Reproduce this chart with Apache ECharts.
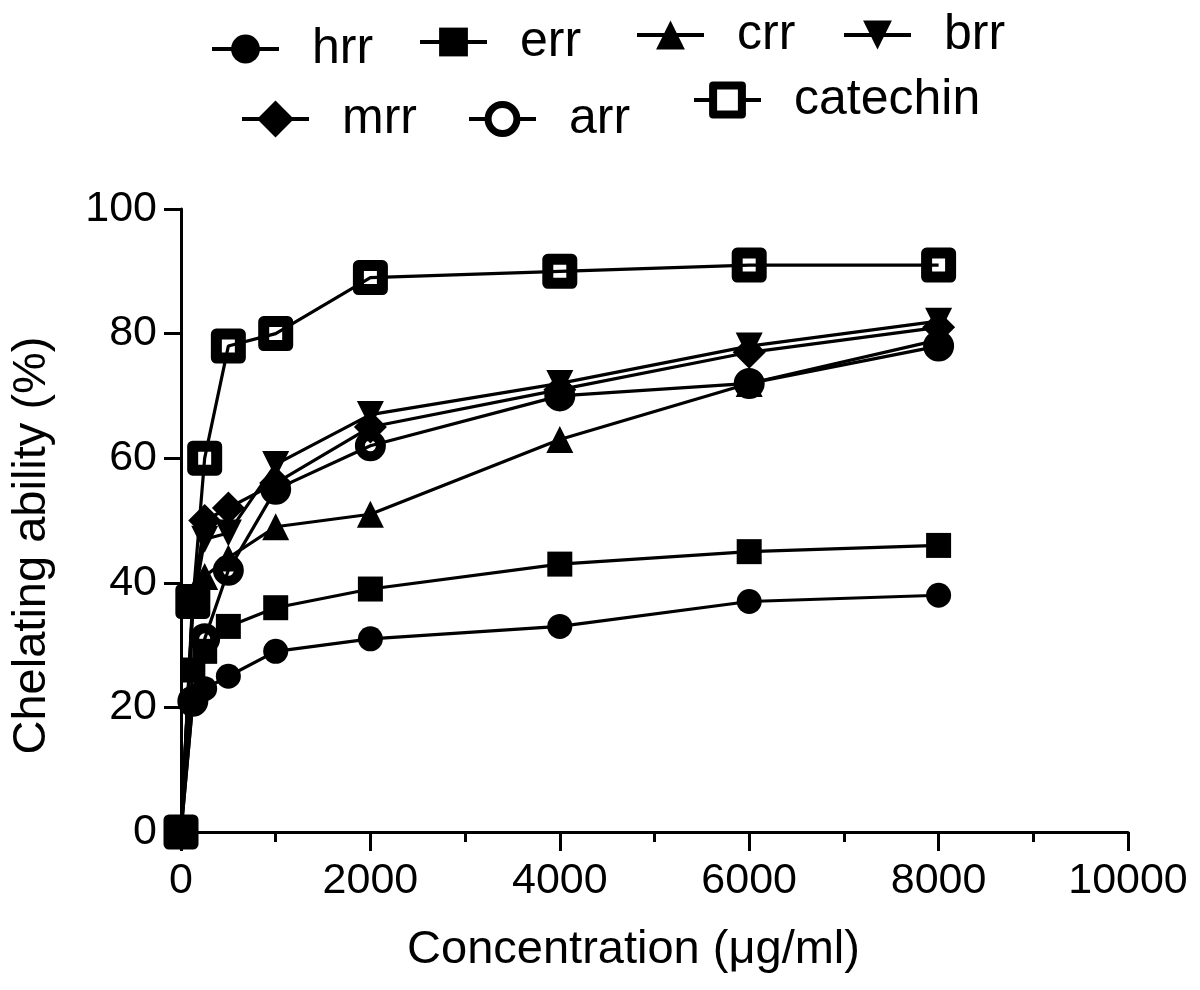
<!DOCTYPE html>
<html>
<head>
<meta charset="utf-8">
<script src="https://cdn.jsdelivr.net/npm/echarts@6/dist/echarts.min.js"></script>
<style>html,body{margin:0;padding:0;background:#fff}#c{width:1200px;height:990px}</style>
</head>
<body>
<div id="c"></div>
<script>
const concentrations = [0, 125, 250, 500, 1000, 2000, 4000, 6000, 8000];
const hrr      = [0, 21, 23, 25, 29, 31, 33, 37, 38];
const err      = [0, 26, 29, 33, 36, 39, 43, 45, 46];
const crr      = [0, 38, 41, 44, 49, 51, 63, 72, 79];
const brr      = [0, 36, 47, 48, 59, 67, 72, 78, 82];
const mrr      = [0, 37, 50, 52, 56, 65, 71, 77, 81];
const arr      = [0, 21, 31, 42, 55, 62, 70, 72, 78];
const catechin = [0, 37, 60, 78, 80, 89, 90, 91, 91];
const xTicks = [0, 2000, 4000, 6000, 8000, 10000];
const yTicks = [0, 20, 40, 60, 80, 100];

const FONT = 'Liberation Sans, Arial, sans-serif';
function pairs(vals) { return concentrations.map((x, i) => [x, vals[i]]); }
function mk(name, vals, symbol, size, opts) {
  return Object.assign({
    name, type: 'line', data: pairs(vals), symbol, symbolSize: size,
    lineStyle: { color: '#000', width: 3.2 },
    itemStyle: { color: '#000' },
    emphasis: { disabled: true }
  }, opts || {});
}
const hollow = (bw) => ({ color: 'rgba(255,255,255,0)', borderColor: '#000', borderWidth: bw });

const series = [
  mk('hrr', hrr, 'circle', 25),
  mk('err', err, 'rect', 25),
  mk('crr', crr, 'triangle', 27),
  mk('brr', brr, 'triangle', 27, { symbolRotate: 180 }),
  mk('mrr', mrr, 'diamond', 33),
  mk('arr', arr, 'circle', 21, { itemStyle: hollow(10) }),
  mk('catechin', catechin, 'rect', 24, { itemStyle: Object.assign(hollow(11), { borderJoin: 'round' }) })
];

const legendPos = {
  hrr: [205, 19], err: [413, 12], crr: [630, 5], brr: [837, 5],
  mrr: [235, 89], arr: [462, 89], catechin: [687, 70]
};
const legendItemStyle = {
  arr: { color: '#fff', borderColor: '#000', borderWidth: 7 },
  catechin: { color: '#fff', borderColor: '#000', borderWidth: 8, borderJoin: 'round' }
};
const legendIconHeight = { mrr: 46 };
const legends = Object.keys(legendPos).map(n => ({
  data: [n], left: legendPos[n][0], top: legendPos[n][1],
  itemWidth: 67, itemHeight: legendIconHeight[n] || 36, selectedMode: false,
  lineStyle: { width: 4, color: '#000' },
  itemStyle: legendItemStyle[n] || { color: '#000' },
  textStyle: { fontSize: 50, fontFamily: FONT, color: '#000', padding: [0, 0, 0, 28] }
}));

const chart = echarts.init(document.getElementById('c'), null, { renderer: 'canvas' });
chart.setOption({
  animation: false,
  backgroundColor: '#fff',
  legend: legends,
  grid: { left: 181, top: 209, right: 72, bottom: 158, containLabel: false },
  xAxis: {
    type: 'value', min: 0, max: 10000, interval: 2000,
    name: 'Concentration (μg/ml)', nameLocation: 'middle', nameGap: 95,
    nameTextStyle: { fontSize: 47, fontFamily: FONT, color: '#000', padding: [0, 42, 0, 0] },
    axisLine: { show: true, lineStyle: { color: '#000', width: 3 } },
    axisTick: { show: true, length: 19, lineStyle: { color: '#000', width: 3 } },
    minorTick: { show: true, splitNumber: 2, length: 10, lineStyle: { color: '#000', width: 3 } },
    axisLabel: { fontSize: 43, fontFamily: FONT, color: '#000', margin: 28,
      formatter: v => xTicks.includes(v) ? String(v) : '' },
    splitLine: { show: false }
  },
  yAxis: {
    type: 'value', min: 0, max: 100, interval: 20,
    name: 'Chelating ability (%)', nameLocation: 'middle', nameGap: 125,
    nameTextStyle: { fontSize: 47, fontFamily: FONT, color: '#000', padding: [0, 50, 0, 0] },
    axisLine: { show: true, lineStyle: { color: '#000', width: 3 } },
    axisTick: { show: true, length: 17, lineStyle: { color: '#000', width: 3 } },
    axisLabel: { fontSize: 43, fontFamily: FONT, color: '#000', margin: 24,
      formatter: v => yTicks.includes(v) ? String(v) : '' },
    splitLine: { show: false }
  },
  series
});
</script>
</body>
</html>
